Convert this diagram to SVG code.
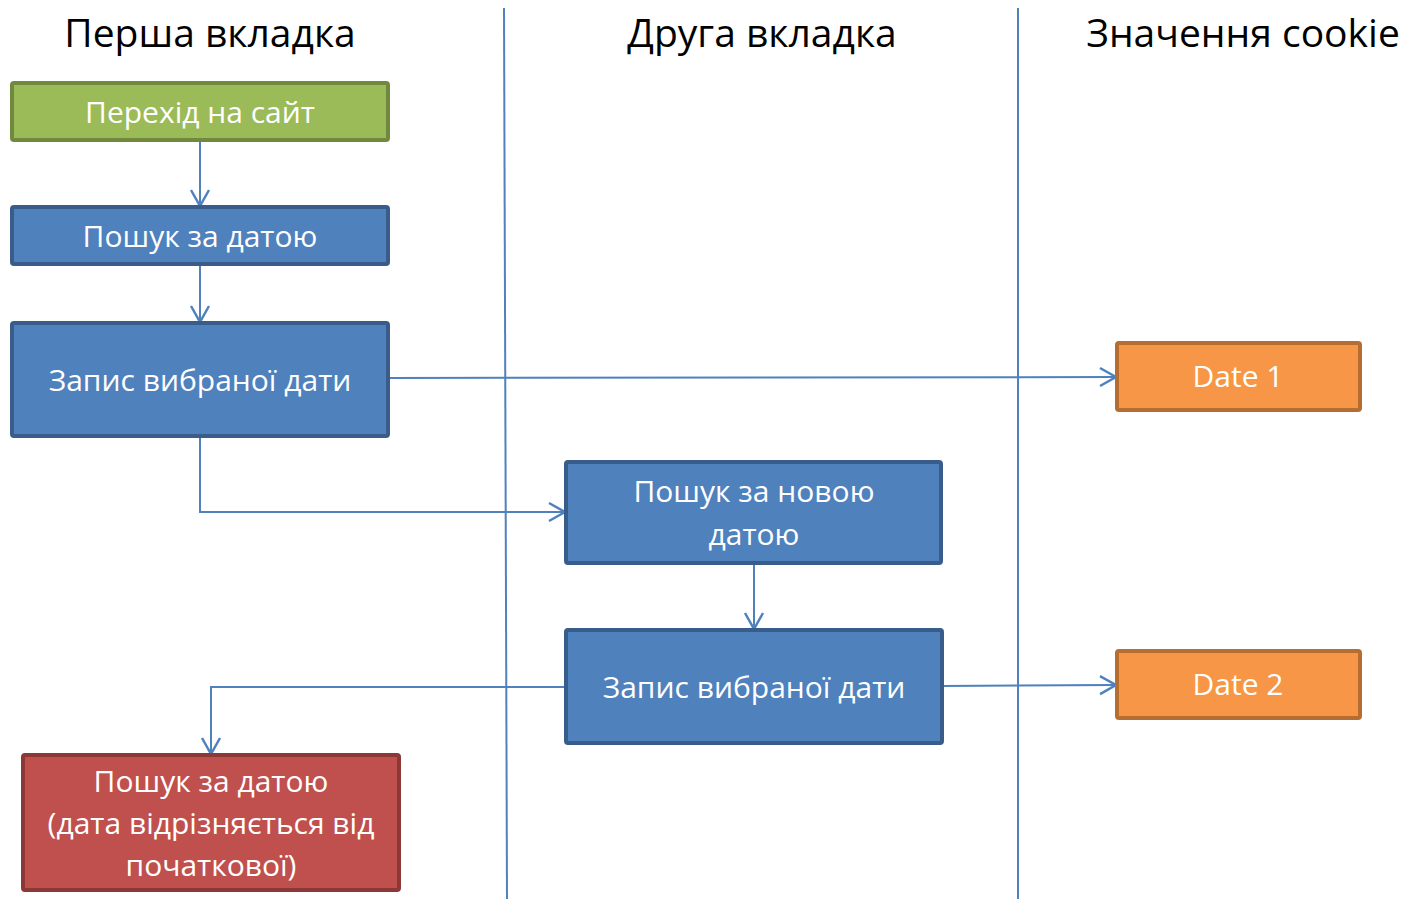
<svg xmlns="http://www.w3.org/2000/svg" width="1414" height="906" viewBox="0 0 1414 906">
<style>
.t{font-family:"Open Sans","Noto Sans","DejaVu Sans",sans-serif;text-anchor:middle}
.title{font-size:39px;fill:#000}
.lbl{font-size:30px;fill:#fff}
.box{stroke-width:4}
.green{fill:#9BBB59;stroke:#71893F}
.blue{fill:#4F81BD;stroke:#385D8A}
.orange{fill:#F79646;stroke:#B66D31}
.red{fill:#C0504D;stroke:#8C3836}
.conn{fill:none;stroke:#4F81BD;stroke-width:2}
.lane{stroke:#4F81BD;stroke-width:2}
</style>
<defs>
<marker id="arr" markerUnits="userSpaceOnUse" viewBox="-18 -11 20 22" markerWidth="20" markerHeight="22" refX="0" refY="0" orient="auto">
<path d="M-16,-9 L0,0 L-16,9" fill="none" stroke="#4F81BD" stroke-width="2.5"/>
</marker>
</defs>
<rect width="1414" height="906" fill="#fff"/>
<g id="lanes">
<line class="lane" x1="504" y1="8" x2="507" y2="899"/>
<line class="lane" x1="1018" y1="8" x2="1018" y2="899"/>
</g>
<g id="titles">
<text class="t title" x="210" y="47">Перша вкладка</text>
<text class="t title" x="762" y="47">Друга вкладка</text>
<text class="t title" x="1243" y="47">Значення cookie</text>
</g>
<g id="connectors">
<path class="conn" d="M200,140 L200,206" marker-end="url(#arr)"/>
<path class="conn" d="M200,264 L200,322" marker-end="url(#arr)"/>
<path class="conn" d="M388,378 L1116,377" marker-end="url(#arr)"/>
<path class="conn" d="M200,436 L200,512 L565,512" marker-end="url(#arr)"/>
<path class="conn" d="M754,563 L754,629" marker-end="url(#arr)"/>
<path class="conn" d="M566,687 L211,687 L211,754" marker-end="url(#arr)"/>
<path class="conn" d="M942,686 L1116,685" marker-end="url(#arr)"/>
</g>
<g id="n1"><rect class="box green" x="12" y="83" width="376" height="57" rx="2"/><text class="t lbl" x="200" y="123">Перехід на сайт</text></g>
<g id="n2"><rect class="box blue" x="12" y="207" width="376" height="57" rx="2"/><text class="t lbl" x="200" y="247">Пошук за датою</text></g>
<g id="n3"><rect class="box blue" x="12" y="323" width="376" height="113" rx="2"/><text class="t lbl" x="200" y="391">Запис вибраної дати</text></g>
<g id="n4"><rect class="box orange" x="1117" y="343" width="243" height="67" rx="2"/><text class="t lbl" x="1238" y="387">Date 1</text></g>
<g id="n5"><rect class="box blue" x="566" y="462" width="375" height="101" rx="2"/><text class="t lbl" x="754" y="502">Пошук за новою</text><text class="t lbl" x="754" y="545">датою</text></g>
<g id="n6"><rect class="box blue" x="566" y="630" width="376" height="113" rx="2"/><text class="t lbl" x="754" y="698">Запис вибраної дати</text></g>
<g id="n7"><rect class="box orange" x="1117" y="651" width="243" height="67" rx="2"/><text class="t lbl" x="1238" y="695">Date 2</text></g>
<g id="n8"><rect class="box red" x="23" y="755" width="376" height="135" rx="2"/><text class="t lbl" x="211" y="792">Пошук за датою</text><text class="t lbl" x="211" y="834">(дата відрізняється від</text><text class="t lbl" x="211" y="876">початкової)</text></g>
</svg>
